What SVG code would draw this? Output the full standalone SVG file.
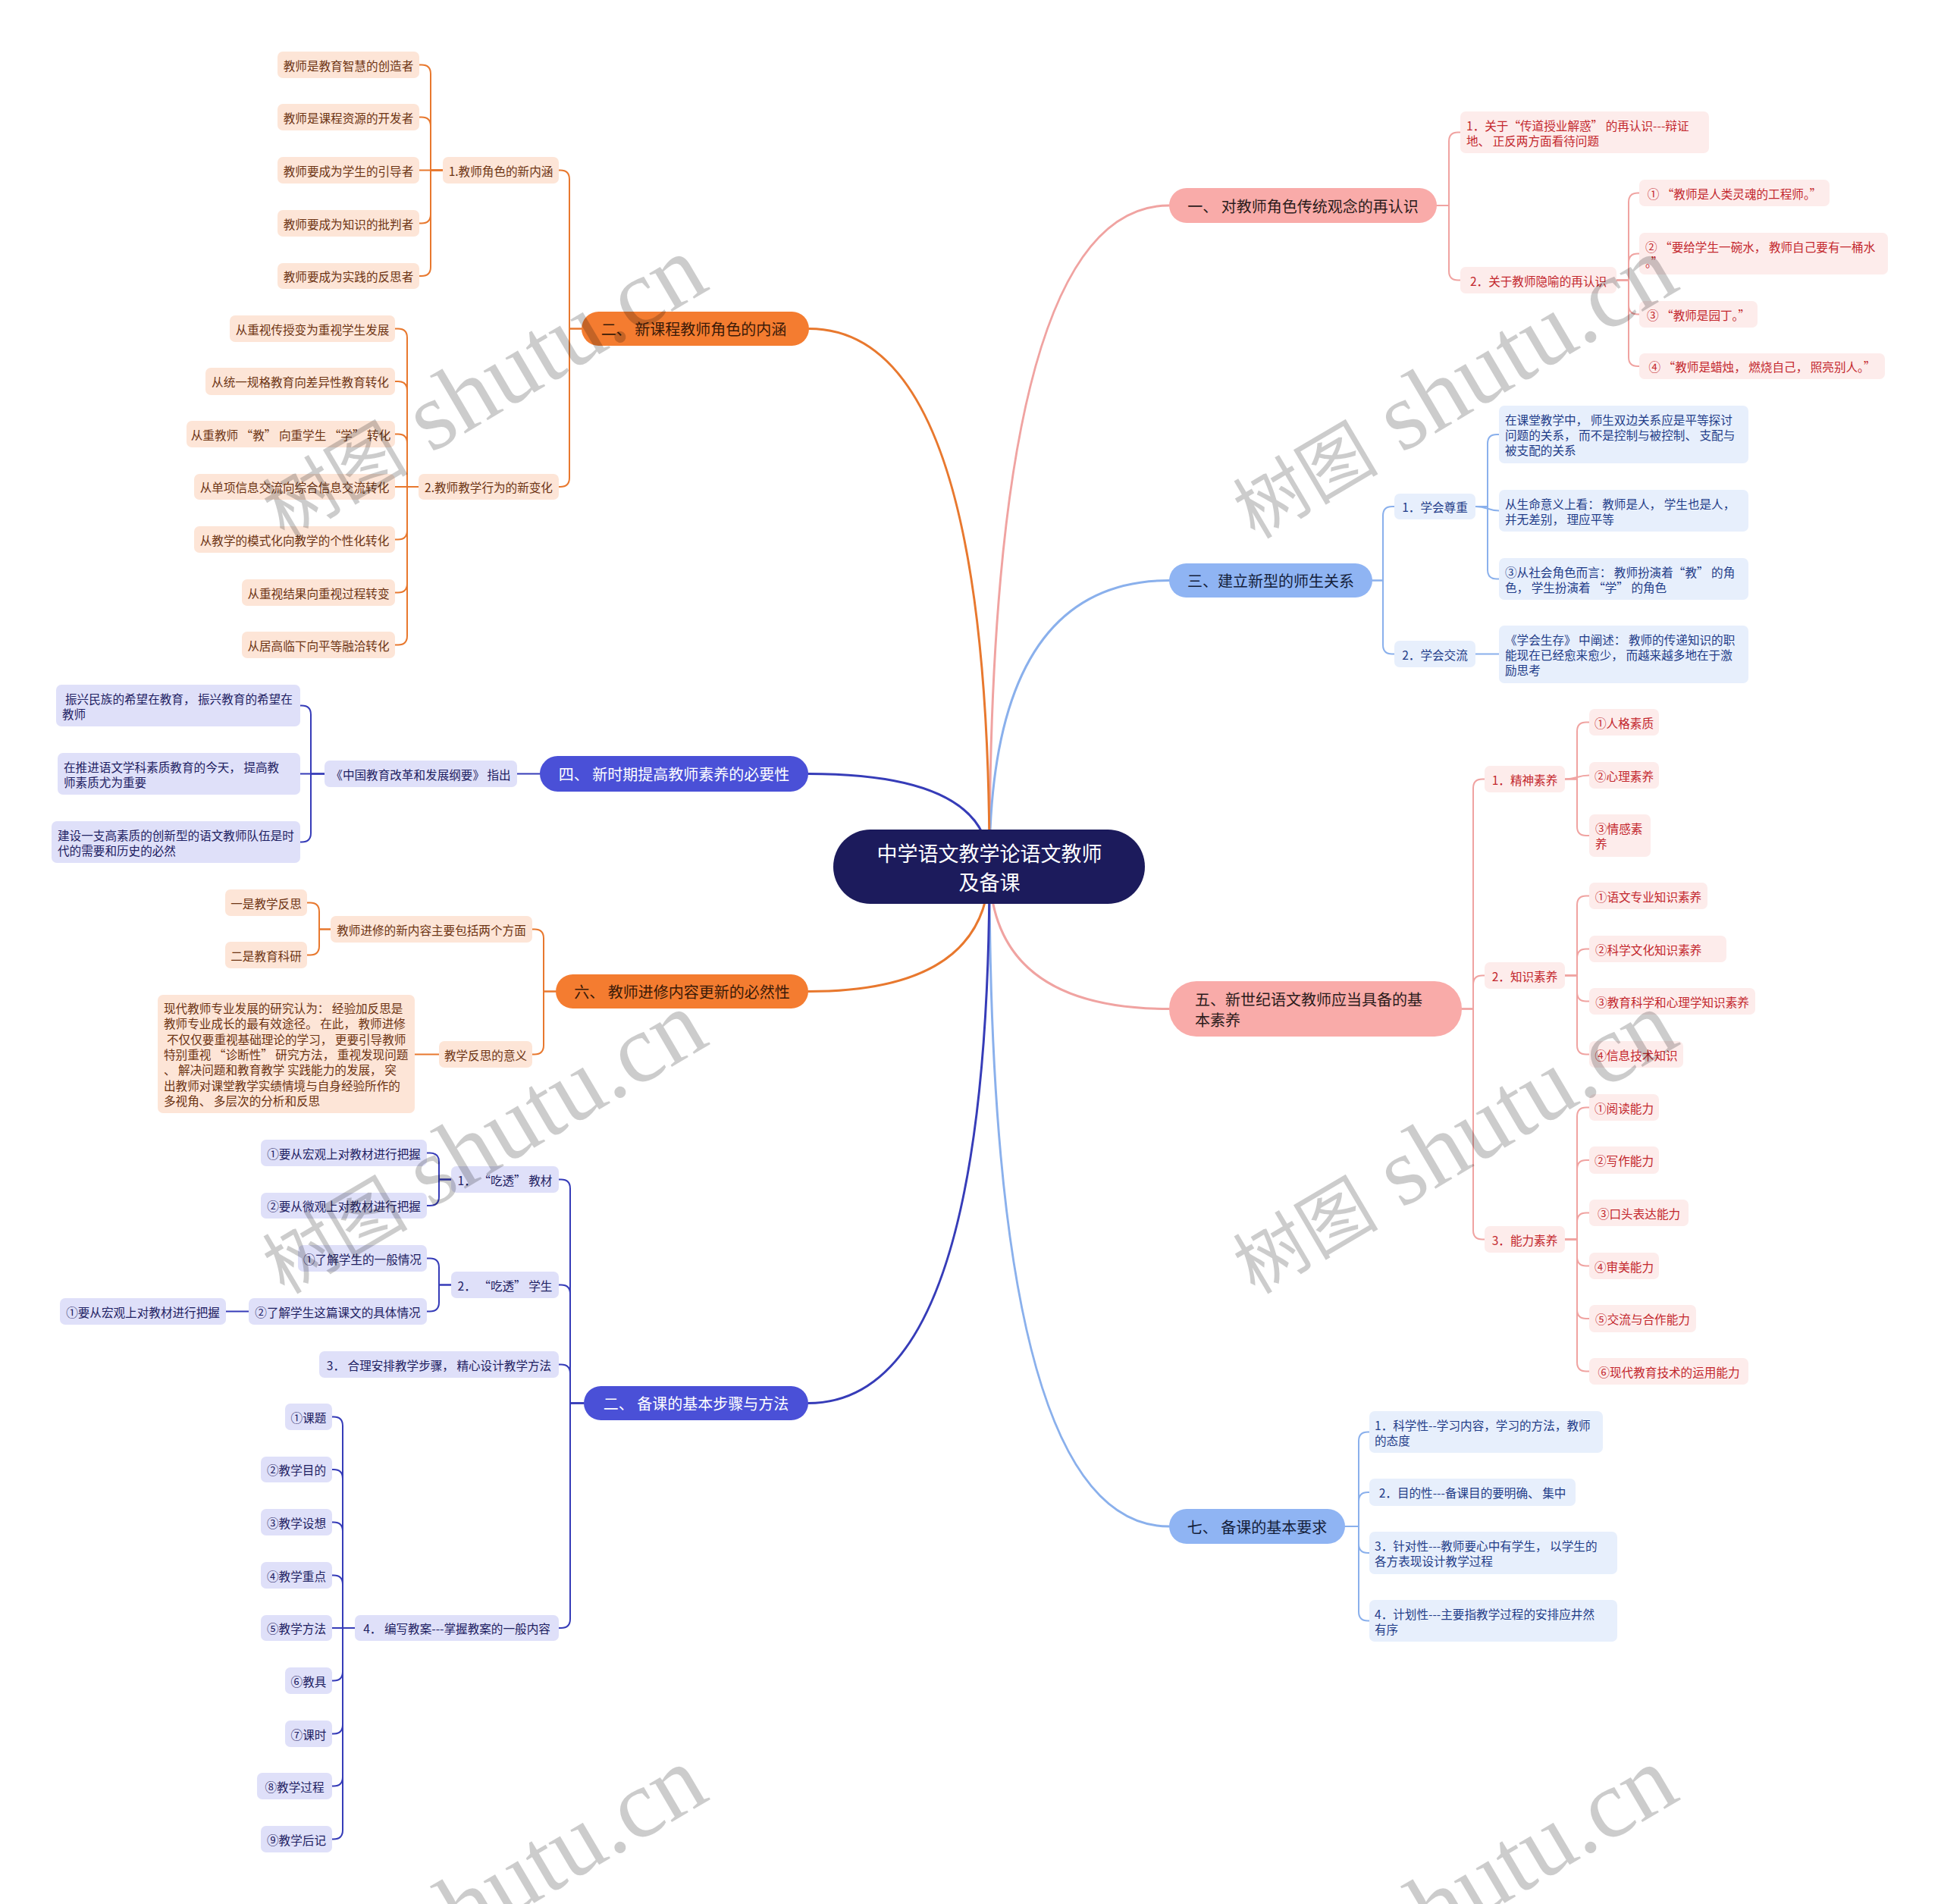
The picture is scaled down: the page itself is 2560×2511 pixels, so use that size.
<svg xmlns="http://www.w3.org/2000/svg" width="2560" height="2511" viewBox="0 0 2560 2511">
<style>
text{font-family:"Noto Sans CJK SC","Noto Sans",sans-serif;dominant-baseline:central}
tspan{dominant-baseline:central}
.ctr rect{fill:#1C1B5C}.ctr text{fill:#fff;font-size:27px}
.bp rect{fill:#F9ABA9}.bp text{fill:#2B1B1B;font-size:20px}
.bb rect{fill:#8FB4F3}.bb text{fill:#14203A;font-size:20px}
.bo rect{fill:#F47C30}.bo text{fill:#3A1A08;font-size:20px}
.bv rect{fill:#4A50D7}.bv text{fill:#fff;font-size:20px}
.kp rect{fill:#FDECEB}.kp text{fill:#C3272D;font-size:15.6px}
.kb rect{fill:#E7EFFC}.kb text{fill:#1F3C88;font-size:15.6px}
.ko rect{fill:#FDE5D7}.ko text{fill:#6D3413;font-size:15.6px}
.kv rect{fill:#DFE0F9}.kv text{fill:#1E2062;font-size:15.6px}
.m{text-anchor:middle}
path{fill:none;stroke-linecap:round}
.lp{stroke:#F0A3A1}.lb{stroke:#8AB0EC}.lo{stroke:#E8782E}.lv{stroke:#363CB8}
.l1{stroke-width:3}.l2{stroke-width:2}
.wm text{font-family:"Liberation Serif","Noto Sans CJK SC",serif;fill:#000;fill-opacity:.2;dominant-baseline:auto}
.wm tspan{dominant-baseline:auto}
</style>
<rect width="2560" height="2511" fill="#fff"/>
<g id="connectors">
<g class="l1">
<path class="lp" d="M1305 1142Q1305 271 1542 271"/>
<path class="lp" d="M1305 1142Q1305 1330.5 1542 1330.5"/>
<path class="lb" d="M1305 1142Q1305 765.5 1542 765.5"/>
<path class="lb" d="M1305 1142Q1305 2013 1542 2013"/>
<path class="lo" d="M1305 1142Q1305 433.5 1067 433.5"/>
<path class="lo" d="M1305 1142Q1305 1307.5 1066 1307.5"/>
<path class="lv" d="M1305 1142Q1305 1020.5 1066 1020.5"/>
<path class="lv" d="M1305 1142Q1305 1850.5 1066 1850.5"/>
</g>
<g class="l2 lp">
<path d="M1895 271H1911V186.5Q1911 174.5 1923 174.5H1926"/>
<path d="M1895 271H1911V357.5Q1911 369.5 1923 369.5H1926"/>
<path d="M2132 369.5H2148V266.5Q2148 254.5 2160 254.5H2162"/>
<path d="M2132 369.5H2148V346.5Q2148 334.5 2160 334.5H2162"/>
<path d="M2132 369.5H2148V402.5Q2148 414.5 2160 414.5H2162"/>
<path d="M2132 369.5H2148V471Q2148 483 2160 483H2162"/>
<path d="M1928 1330.5H1943V1039.5Q1943 1027.5 1955 1027.5H1958"/>
<path d="M1928 1330.5H1943V1298.5Q1943 1286.5 1955 1286.5H1958"/>
<path d="M1928 1330.5H1943V1622.5Q1943 1634.5 1955 1634.5H1958"/>
<path d="M2064 1027.5H2080V964.5Q2080 952.5 2092 952.5H2096"/>
<path d="M2064 1027.5C2080 1027.5 2080 1022.5 2096 1022.5"/>
<path d="M2064 1027.5H2080V1090Q2080 1102 2092 1102H2096"/>
<path d="M2064 1286.5H2080V1193.5Q2080 1181.5 2092 1181.5H2096"/>
<path d="M2064 1286.5H2080V1263.5Q2080 1251.5 2092 1251.5H2096"/>
<path d="M2064 1286.5H2080V1308.5Q2080 1320.5 2092 1320.5H2096"/>
<path d="M2064 1286.5H2080V1378.5Q2080 1390.5 2092 1390.5H2096"/>
<path d="M2064 1634.5H2080V1472.5Q2080 1460.5 2092 1460.5H2096"/>
<path d="M2064 1634.5H2080V1542Q2080 1530 2092 1530H2096"/>
<path d="M2064 1634.5H2080V1611.5Q2080 1599.5 2092 1599.5H2096"/>
<path d="M2064 1634.5H2080V1657.5Q2080 1669.5 2092 1669.5H2096"/>
<path d="M2064 1634.5H2080V1727Q2080 1739 2092 1739H2096"/>
<path d="M2064 1634.5H2080V1796.5Q2080 1808.5 2092 1808.5H2096"/>
</g>
<g class="l2 lb">
<path d="M1810 765.5H1824V680Q1824 668 1836 668H1839"/>
<path d="M1810 765.5H1824V850.5Q1824 862.5 1836 862.5H1839"/>
<path d="M1946 668H1962V585Q1962 573 1974 573H1977"/>
<path d="M1946 668C1962 668 1962 673.5 1977 673.5"/>
<path d="M1946 668H1962V751.5Q1962 763.5 1974 763.5H1977"/>
<path d="M1946 862.5H1977"/>
<path d="M1774 2013H1792V1900.5Q1792 1888.5 1804 1888.5H1806"/>
<path d="M1774 2013H1792V1980Q1792 1968 1804 1968H1806"/>
<path d="M1774 2013H1792V2036Q1792 2048 1804 2048H1806"/>
<path d="M1774 2013H1792V2125.5Q1792 2137.5 1804 2137.5H1806"/>
</g>
<g class="l2 lo">
<path d="M767 433.5H751V236.5Q751 224.5 739 224.5H737"/>
<path d="M767 433.5H751V630Q751 642 739 642H737"/>
<path d="M584 224.5H568V97.5Q568 85.5 556 85.5H553"/>
<path d="M584 224.5H568V166.5Q568 154.5 556 154.5H553"/>
<path d="M584 224.5H553"/>
<path d="M584 224.5H568V282.5Q568 294.5 556 294.5H553"/>
<path d="M584 224.5H568V352Q568 364 556 364H553"/>
<path d="M552 642H537V445.5Q537 433.5 525 433.5H521"/>
<path d="M552 642H537V515Q537 503 525 503H521"/>
<path d="M552 642H537V584.5Q537 572.5 525 572.5H521"/>
<path d="M552 642H521"/>
<path d="M552 642H537V699.5Q537 711.5 525 711.5H521"/>
<path d="M552 642H537V769.5Q537 781.5 525 781.5H521"/>
<path d="M552 642H537V838.5Q537 850.5 525 850.5H521"/>
<path d="M733 1307.5H717V1237.5Q717 1225.5 705 1225.5H702"/>
<path d="M733 1307.5H717V1378.5Q717 1390.5 705 1390.5H702"/>
<path d="M436 1225.5H421V1202.5Q421 1190.5 409 1190.5H405"/>
<path d="M436 1225.5H421V1247.5Q421 1259.5 409 1259.5H405"/>
<path d="M579 1390.5H547"/>
</g>
<g class="l2 lv">
<path d="M712 1020.5H682"/>
<path d="M428 1020.5H410V942.5Q410 930.5 398 930.5H396"/>
<path d="M428 1020.5H396"/>
<path d="M428 1020.5H410V1098.5Q410 1110.5 398 1110.5H396"/>
<path d="M770 1850.5H752V1567.5Q752 1555.5 740 1555.5H737"/>
<path d="M770 1850.5H752V1706.5Q752 1694.5 740 1694.5H737"/>
<path d="M770 1850.5H752V1811.5Q752 1799.5 740 1799.5H737"/>
<path d="M770 1850.5H752V2135Q752 2147 740 2147H737"/>
<path d="M595 1555.5H579V1532.5Q579 1520.5 567 1520.5H563"/>
<path d="M595 1555.5H579V1578Q579 1590 567 1590H563"/>
<path d="M595 1694.5H579V1671.5Q579 1659.5 567 1659.5H563"/>
<path d="M595 1694.5H579V1717.5Q579 1729.5 567 1729.5H563"/>
<path d="M328 1729.5H298"/>
<path d="M468 2147H452V1880.5Q452 1868.5 440 1868.5H438"/>
<path d="M468 2147H452V1950Q452 1938 440 1938H438"/>
<path d="M468 2147H452V2019.5Q452 2007.5 440 2007.5H438"/>
<path d="M468 2147H452V2089.5Q452 2077.5 440 2077.5H438"/>
<path d="M468 2147H438"/>
<path d="M468 2147H452V2204.5Q452 2216.5 440 2216.5H438"/>
<path d="M468 2147H452V2274.5Q452 2286.5 440 2286.5H438"/>
<path d="M468 2147H452V2343.5Q452 2355.5 440 2355.5H438"/>
<path d="M468 2147H452V2413.5Q452 2425.5 440 2425.5H438"/>
</g>
</g>

<g id="n-center" class="ctr"><rect x="1099" y="1094" width="411" height="98" rx="49"/><text class="m"><tspan x="1305" y="1124">中学语文教学论语文教师</tspan><tspan x="1305" y="1162">及备课</tspan></text></g>

<g id="n-1" class="bp"><rect x="1542" y="248" width="353" height="46" rx="23"/><text class="m" x="1718.5" y="271">一、 对教师角色传统观念的再认识</text></g>
<g id="n-1-1" class="kp"><rect x="1926" y="147" width="328" height="55" rx="7"/><text><tspan x="1934" y="164.5">1．关于“传道授业解惑” 的再认识---辩证</tspan><tspan x="1934" y="184.5">地、 正反两方面看待问题</tspan></text></g>
<g id="n-1-2" class="kp"><rect x="1926" y="352" width="206" height="35" rx="7"/><text class="m" x="2029" y="369.5">2．关于教师隐喻的再认识</text></g>
<g id="n-1-2-1" class="kp"><rect x="2162" y="237" width="251" height="35" rx="7"/><text class="m" x="2287.5" y="254.5">① “教师是人类灵魂的工程师。”</text></g>
<g id="n-1-2-2" class="kp"><rect x="2162" y="307" width="328" height="55" rx="7"/><text><tspan x="2170" y="324.5">② “要给学生一碗水， 教师自己要有一桶水</tspan><tspan x="2170" y="344.5">。”</tspan></text></g>
<g id="n-1-2-3" class="kp"><rect x="2162" y="397" width="156" height="35" rx="7"/><text class="m" x="2240" y="414.5">③ “教师是园丁。”</text></g>
<g id="n-1-2-4" class="kp"><rect x="2162" y="466" width="324" height="34" rx="7"/><text class="m" x="2324" y="483">④ “教师是蜡烛， 燃烧自己， 照亮别人。”</text></g>

<g id="n-3" class="bb"><rect x="1542" y="743" width="268" height="45" rx="22.5"/><text class="m" x="1676" y="765.5">三、建立新型的师生关系</text></g>
<g id="n-3-1" class="kb"><rect x="1839" y="651" width="107" height="34" rx="7"/><text class="m" x="1892.5" y="668">1．学会尊重</text></g>
<g id="n-3-1-1" class="kb"><rect x="1977" y="535" width="329" height="76" rx="7"/><text><tspan x="1985" y="553">在课堂教学中， 师生双边关系应是平等探讨</tspan><tspan x="1985" y="573">问题的关系， 而不是控制与被控制、 支配与</tspan><tspan x="1985" y="593">被支配的关系</tspan></text></g>
<g id="n-3-1-2" class="kb"><rect x="1977" y="646" width="329" height="55" rx="7"/><text><tspan x="1985" y="663.5">从生命意义上看： 教师是人， 学生也是人，</tspan><tspan x="1985" y="683.5">并无差别， 理应平等</tspan></text></g>
<g id="n-3-1-3" class="kb"><rect x="1977" y="736" width="329" height="55" rx="7"/><text><tspan x="1985" y="753.5">③从社会角色而言： 教师扮演着“教” 的角</tspan><tspan x="1985" y="773.5">色， 学生扮演着 “学” 的角色</tspan></text></g>
<g id="n-3-2" class="kb"><rect x="1839" y="845" width="107" height="35" rx="7"/><text class="m" x="1892.5" y="862.5">2．学会交流</text></g>
<g id="n-3-2-1" class="kb"><rect x="1977" y="825" width="329" height="76" rx="7"/><text><tspan x="1985" y="843">《学会生存》 中阐述： 教师的传递知识的职</tspan><tspan x="1985" y="863">能现在已经愈来愈少， 而越来越多地在于激</tspan><tspan x="1985" y="883">励思考</tspan></text></g>

<g id="n-5" class="bp"><rect x="1542" y="1294" width="386" height="73" rx="36"/><text><tspan x="1576" y="1317">五、新世纪语文教师应当具备的基</tspan><tspan x="1576" y="1344">本素养</tspan></text></g>
<g id="n-5-1" class="kp"><rect x="1958" y="1010" width="106" height="35" rx="7"/><text class="m" x="2011" y="1027.5">1．精神素养</text></g>
<g id="n-5-1-1" class="kp"><rect x="2096" y="935" width="92" height="35" rx="7"/><text class="m" x="2142" y="952.5">①人格素质</text></g>
<g id="n-5-1-2" class="kp"><rect x="2096" y="1005" width="92" height="35" rx="7"/><text class="m" x="2142" y="1022.5">②心理素养</text></g>
<g id="n-5-1-3" class="kp"><rect x="2096" y="1074" width="81" height="56" rx="7"/><text><tspan x="2104" y="1092">③情感素</tspan><tspan x="2104" y="1112">养</tspan></text></g>
<g id="n-5-2" class="kp"><rect x="1958" y="1269" width="106" height="35" rx="7"/><text class="m" x="2011" y="1286.5">2．知识素养</text></g>
<g id="n-5-2-1" class="kp"><rect x="2096" y="1164" width="156" height="35" rx="7"/><text class="m" x="2174" y="1181.5">①语文专业知识素养</text></g>
<g id="n-5-2-2" class="kp"><rect x="2096" y="1234" width="181" height="35" rx="7"/><text x="2104" y="1251.5">②科学文化知识素养</text></g>
<g id="n-5-2-3" class="kp"><rect x="2096" y="1303" width="219" height="35" rx="7"/><text class="m" x="2205.5" y="1320.5">③教育科学和心理学知识素养</text></g>
<g id="n-5-2-4" class="kp"><rect x="2096" y="1373" width="124" height="35" rx="7"/><text class="m" x="2158" y="1390.5">④信息技术知识</text></g>
<g id="n-5-3" class="kp"><rect x="1958" y="1617" width="106" height="35" rx="7"/><text class="m" x="2011" y="1634.5">3．能力素养</text></g>
<g id="n-5-3-1" class="kp"><rect x="2096" y="1443" width="92" height="35" rx="7"/><text class="m" x="2142" y="1460.5">①阅读能力</text></g>
<g id="n-5-3-2" class="kp"><rect x="2096" y="1512" width="92" height="36" rx="7"/><text class="m" x="2142" y="1530">②写作能力</text></g>
<g id="n-5-3-3" class="kp"><rect x="2096" y="1582" width="131" height="35" rx="7"/><text class="m" x="2161.5" y="1599.5">③口头表达能力</text></g>
<g id="n-5-3-4" class="kp"><rect x="2096" y="1652" width="92" height="35" rx="7"/><text class="m" x="2142" y="1669.5">④审美能力</text></g>
<g id="n-5-3-5" class="kp"><rect x="2096" y="1721" width="141" height="36" rx="7"/><text class="m" x="2166.5" y="1739">⑤交流与合作能力</text></g>
<g id="n-5-3-6" class="kp"><rect x="2096" y="1791" width="210" height="35" rx="7"/><text class="m" x="2201" y="1808.5">⑥现代教育技术的运用能力</text></g>

<g id="n-7" class="bb"><rect x="1542" y="1990" width="232" height="46" rx="23"/><text class="m" x="1658" y="2013">七、 备课的基本要求</text></g>
<g id="n-7-1" class="kb"><rect x="1806" y="1861" width="308" height="55" rx="7"/><text><tspan x="1813" y="1878.5">1．科学性--学习内容，学习的方法，教师</tspan><tspan x="1813" y="1898.5">的态度</tspan></text></g>
<g id="n-7-2" class="kb"><rect x="1806" y="1950" width="272" height="36" rx="7"/><text class="m" x="1942" y="1968">2．目的性---备课目的要明确、 集中</text></g>
<g id="n-7-3" class="kb"><rect x="1806" y="2020" width="327" height="56" rx="7"/><text><tspan x="1813" y="2038">3．针对性---教师要心中有学生， 以学生的</tspan><tspan x="1813" y="2058">各方表现设计教学过程</tspan></text></g>
<g id="n-7-4" class="kb"><rect x="1806" y="2110" width="327" height="55" rx="7"/><text><tspan x="1813" y="2127.5">4．计划性---主要指教学过程的安排应井然</tspan><tspan x="1813" y="2147.5">有序</tspan></text></g>

<g id="n-2" class="bo"><rect x="767" y="411" width="300" height="45" rx="22.5"/><text class="m" x="915" y="433.5">二、 新课程教师角色的内涵</text></g>
<g id="n-2-1" class="ko"><rect x="584" y="207" width="153" height="35" rx="7"/><text class="m" x="660.5" y="224.5">1.教师角色的新内涵</text></g>
<g id="n-2-1-1" class="ko"><rect x="366" y="68" width="187" height="35" rx="7"/><text class="m" x="459.5" y="85.5">教师是教育智慧的创造者</text></g>
<g id="n-2-1-2" class="ko"><rect x="366" y="137" width="187" height="35" rx="7"/><text class="m" x="459.5" y="154.5">教师是课程资源的开发者</text></g>
<g id="n-2-1-3" class="ko"><rect x="366" y="207" width="187" height="35" rx="7"/><text class="m" x="459.5" y="224.5">教师要成为学生的引导者</text></g>
<g id="n-2-1-4" class="ko"><rect x="366" y="277" width="187" height="35" rx="7"/><text class="m" x="459.5" y="294.5">教师要成为知识的批判者</text></g>
<g id="n-2-1-5" class="ko"><rect x="366" y="347" width="187" height="34" rx="7"/><text class="m" x="459.5" y="364">教师要成为实践的反思者</text></g>
<g id="n-2-2" class="ko"><rect x="552" y="625" width="185" height="34" rx="7"/><text class="m" x="644.5" y="642">2.教师教学行为的新变化</text></g>
<g id="n-2-2-1" class="ko"><rect x="303" y="416" width="218" height="35" rx="7"/><text class="m" x="412" y="433.5">从重视传授变为重视学生发展</text></g>
<g id="n-2-2-2" class="ko"><rect x="271" y="485" width="250" height="36" rx="7"/><text class="m" x="396" y="503">从统一规格教育向差异性教育转化</text></g>
<g id="n-2-2-3" class="ko"><rect x="246" y="555" width="275" height="35" rx="7"/><text class="m" x="383.5" y="572.5">从重教师 “教” 向重学生 “学” 转化</text></g>
<g id="n-2-2-4" class="ko"><rect x="256" y="625" width="265" height="34" rx="7"/><text class="m" x="388.5" y="642">从单项信息交流向综合信息交流转化</text></g>
<g id="n-2-2-5" class="ko"><rect x="256" y="694" width="265" height="35" rx="7"/><text class="m" x="388.5" y="711.5">从教学的模式化向教学的个性化转化</text></g>
<g id="n-2-2-6" class="ko"><rect x="319" y="764" width="202" height="35" rx="7"/><text class="m" x="420" y="781.5">从重视结果向重视过程转变</text></g>
<g id="n-2-2-7" class="ko"><rect x="319" y="833" width="202" height="35" rx="7"/><text class="m" x="420" y="850.5">从居高临下向平等融洽转化</text></g>

<g id="n-4" class="bv"><rect x="712" y="997" width="354" height="47" rx="23.5"/><text class="m" x="889" y="1020.5">四、 新时期提高教师素养的必要性</text></g>
<g id="n-4-1" class="kv"><rect x="428" y="1003" width="254" height="35" rx="7"/><text class="m" x="555" y="1020.5">《中国教育改革和发展纲要》 指出</text></g>
<g id="n-4-1-1" class="kv"><rect x="74" y="903" width="322" height="55" rx="7"/><text><tspan x="86" y="920.5">振兴民族的希望在教育， 振兴教育的希望在</tspan><tspan x="82" y="940.5">教师</tspan></text></g>
<g id="n-4-1-2" class="kv"><rect x="76" y="993" width="320" height="55" rx="7"/><text><tspan x="84" y="1010.5">在推进语文学科素质教育的今天， 提高教</tspan><tspan x="84" y="1030.5">师素质尤为重要</tspan></text></g>
<g id="n-4-1-3" class="kv"><rect x="68" y="1083" width="328" height="55" rx="7"/><text><tspan x="76" y="1100.5">建设一支高素质的创新型的语文教师队伍是时</tspan><tspan x="76" y="1120.5">代的需要和历史的必然</tspan></text></g>

<g id="n-6" class="bo"><rect x="733" y="1285" width="333" height="45" rx="22.5"/><text class="m" x="899.5" y="1307.5">六、 教师进修内容更新的必然性</text></g>
<g id="n-6-1" class="ko"><rect x="436" y="1208" width="266" height="35" rx="7"/><text class="m" x="569" y="1225.5">教师进修的新内容主要包括两个方面</text></g>
<g id="n-6-1-1" class="ko"><rect x="297" y="1173" width="108" height="35" rx="7"/><text class="m" x="351" y="1190.5">一是教学反思</text></g>
<g id="n-6-1-2" class="ko"><rect x="297" y="1242" width="108" height="35" rx="7"/><text class="m" x="351" y="1259.5">二是教育科研</text></g>
<g id="n-6-2" class="ko"><rect x="579" y="1373" width="123" height="35" rx="7"/><text class="m" x="640.5" y="1390.5">教学反思的意义</text></g>
<g id="n-6-2-1" class="ko"><rect x="208" y="1312" width="339" height="156" rx="7"/><text><tspan x="216" y="1329.1">现代教师专业发展的研究认为： 经验加反思是</tspan><tspan x="216" y="1349.4">教师专业成长的最有效途径。 在此， 教师进修</tspan><tspan x="220" y="1369.7">不仅仅要重视基础理论的学习， 更要引导教师</tspan><tspan x="216" y="1390">特别重视 “诊断性” 研究方法， 重视发现问题</tspan><tspan x="216" y="1410.3">、 解决问题和教育教学 实践能力的发展， 突</tspan><tspan x="216" y="1430.6">出教师对课堂教学实绩情境与自身经验所作的</tspan><tspan x="216" y="1450.9">多视角、 多层次的分析和反思</tspan></text></g>

<g id="n-8" class="bv"><rect x="770" y="1828" width="296" height="45" rx="22.5"/><text class="m" x="918" y="1850.5">二、 备课的基本步骤与方法</text></g>
<g id="n-8-1" class="kv"><rect x="595" y="1538" width="142" height="35" rx="7"/><text class="m" x="666" y="1555.5">1． “吃透” 教材</text></g>
<g id="n-8-1-1" class="kv"><rect x="344" y="1503" width="219" height="35" rx="7"/><text class="m" x="453.5" y="1520.5">①要从宏观上对教材进行把握</text></g>
<g id="n-8-1-2" class="kv"><rect x="344" y="1573" width="219" height="34" rx="7"/><text class="m" x="453.5" y="1590">②要从微观上对教材进行把握</text></g>
<g id="n-8-2" class="kv"><rect x="595" y="1677" width="142" height="35" rx="7"/><text class="m" x="666" y="1694.5">2． “吃透” 学生</text></g>
<g id="n-8-2-1" class="kv"><rect x="393" y="1642" width="170" height="35" rx="7"/><text class="m" x="478" y="1659.5">①了解学生的一般情况</text></g>
<g id="n-8-2-2" class="kv"><rect x="328" y="1712" width="235" height="35" rx="7"/><text class="m" x="445.5" y="1729.5">②了解学生这篇课文的具体情况</text></g>
<g id="n-8-2-2-1" class="kv"><rect x="79" y="1712" width="219" height="35" rx="7"/><text class="m" x="188.5" y="1729.5">①要从宏观上对教材进行把握</text></g>
<g id="n-8-3" class="kv"><rect x="421" y="1782" width="316" height="35" rx="7"/><text class="m" x="579" y="1799.5">3． 合理安排教学步骤， 精心设计教学方法</text></g>
<g id="n-8-4" class="kv"><rect x="468" y="2130" width="269" height="34" rx="7"/><text class="m" x="602.5" y="2147">4． 编写教案---掌握教案的一般内容</text></g>
<g id="n-8-4-1" class="kv"><rect x="376" y="1851" width="62" height="35" rx="7"/><text class="m" x="407" y="1868.5">①课题</text></g>
<g id="n-8-4-2" class="kv"><rect x="344" y="1921" width="94" height="34" rx="7"/><text class="m" x="391" y="1938">②教学目的</text></g>
<g id="n-8-4-3" class="kv"><rect x="344" y="1990" width="94" height="35" rx="7"/><text class="m" x="391" y="2007.5">③教学设想</text></g>
<g id="n-8-4-4" class="kv"><rect x="344" y="2060" width="94" height="35" rx="7"/><text class="m" x="391" y="2077.5">④教学重点</text></g>
<g id="n-8-4-5" class="kv"><rect x="344" y="2130" width="94" height="34" rx="7"/><text class="m" x="391" y="2147">⑤教学方法</text></g>
<g id="n-8-4-6" class="kv"><rect x="376" y="2199" width="62" height="35" rx="7"/><text class="m" x="407" y="2216.5">⑥教具</text></g>
<g id="n-8-4-7" class="kv"><rect x="376" y="2269" width="62" height="35" rx="7"/><text class="m" x="407" y="2286.5">⑦课时</text></g>
<g id="n-8-4-8" class="kv"><rect x="339" y="2338" width="99" height="35" rx="7"/><text class="m" x="388.5" y="2355.5">⑧教学过程</text></g>
<g id="n-8-4-9" class="kv"><rect x="344" y="2408" width="94" height="35" rx="7"/><text class="m" x="391" y="2425.5">⑨教学后记</text></g>

<g id="watermarks" class="wm">
<text transform="translate(375 712) rotate(-30.5)"><tspan font-size="96">树图</tspan><tspan font-size="128"> shutu.cn</tspan></text>
<text transform="translate(1655 712) rotate(-30.5)"><tspan font-size="96">树图</tspan><tspan font-size="128"> shutu.cn</tspan></text>
<text transform="translate(375 1708) rotate(-30.5)"><tspan font-size="96">树图</tspan><tspan font-size="128"> shutu.cn</tspan></text>
<text transform="translate(1655 1708) rotate(-30.5)"><tspan font-size="96">树图</tspan><tspan font-size="128"> shutu.cn</tspan></text>
<text transform="translate(375 2704) rotate(-30.5)"><tspan font-size="96">树图</tspan><tspan font-size="128"> shutu.cn</tspan></text>
<text transform="translate(1655 2704) rotate(-30.5)"><tspan font-size="96">树图</tspan><tspan font-size="128"> shutu.cn</tspan></text>
</g>
</svg>
